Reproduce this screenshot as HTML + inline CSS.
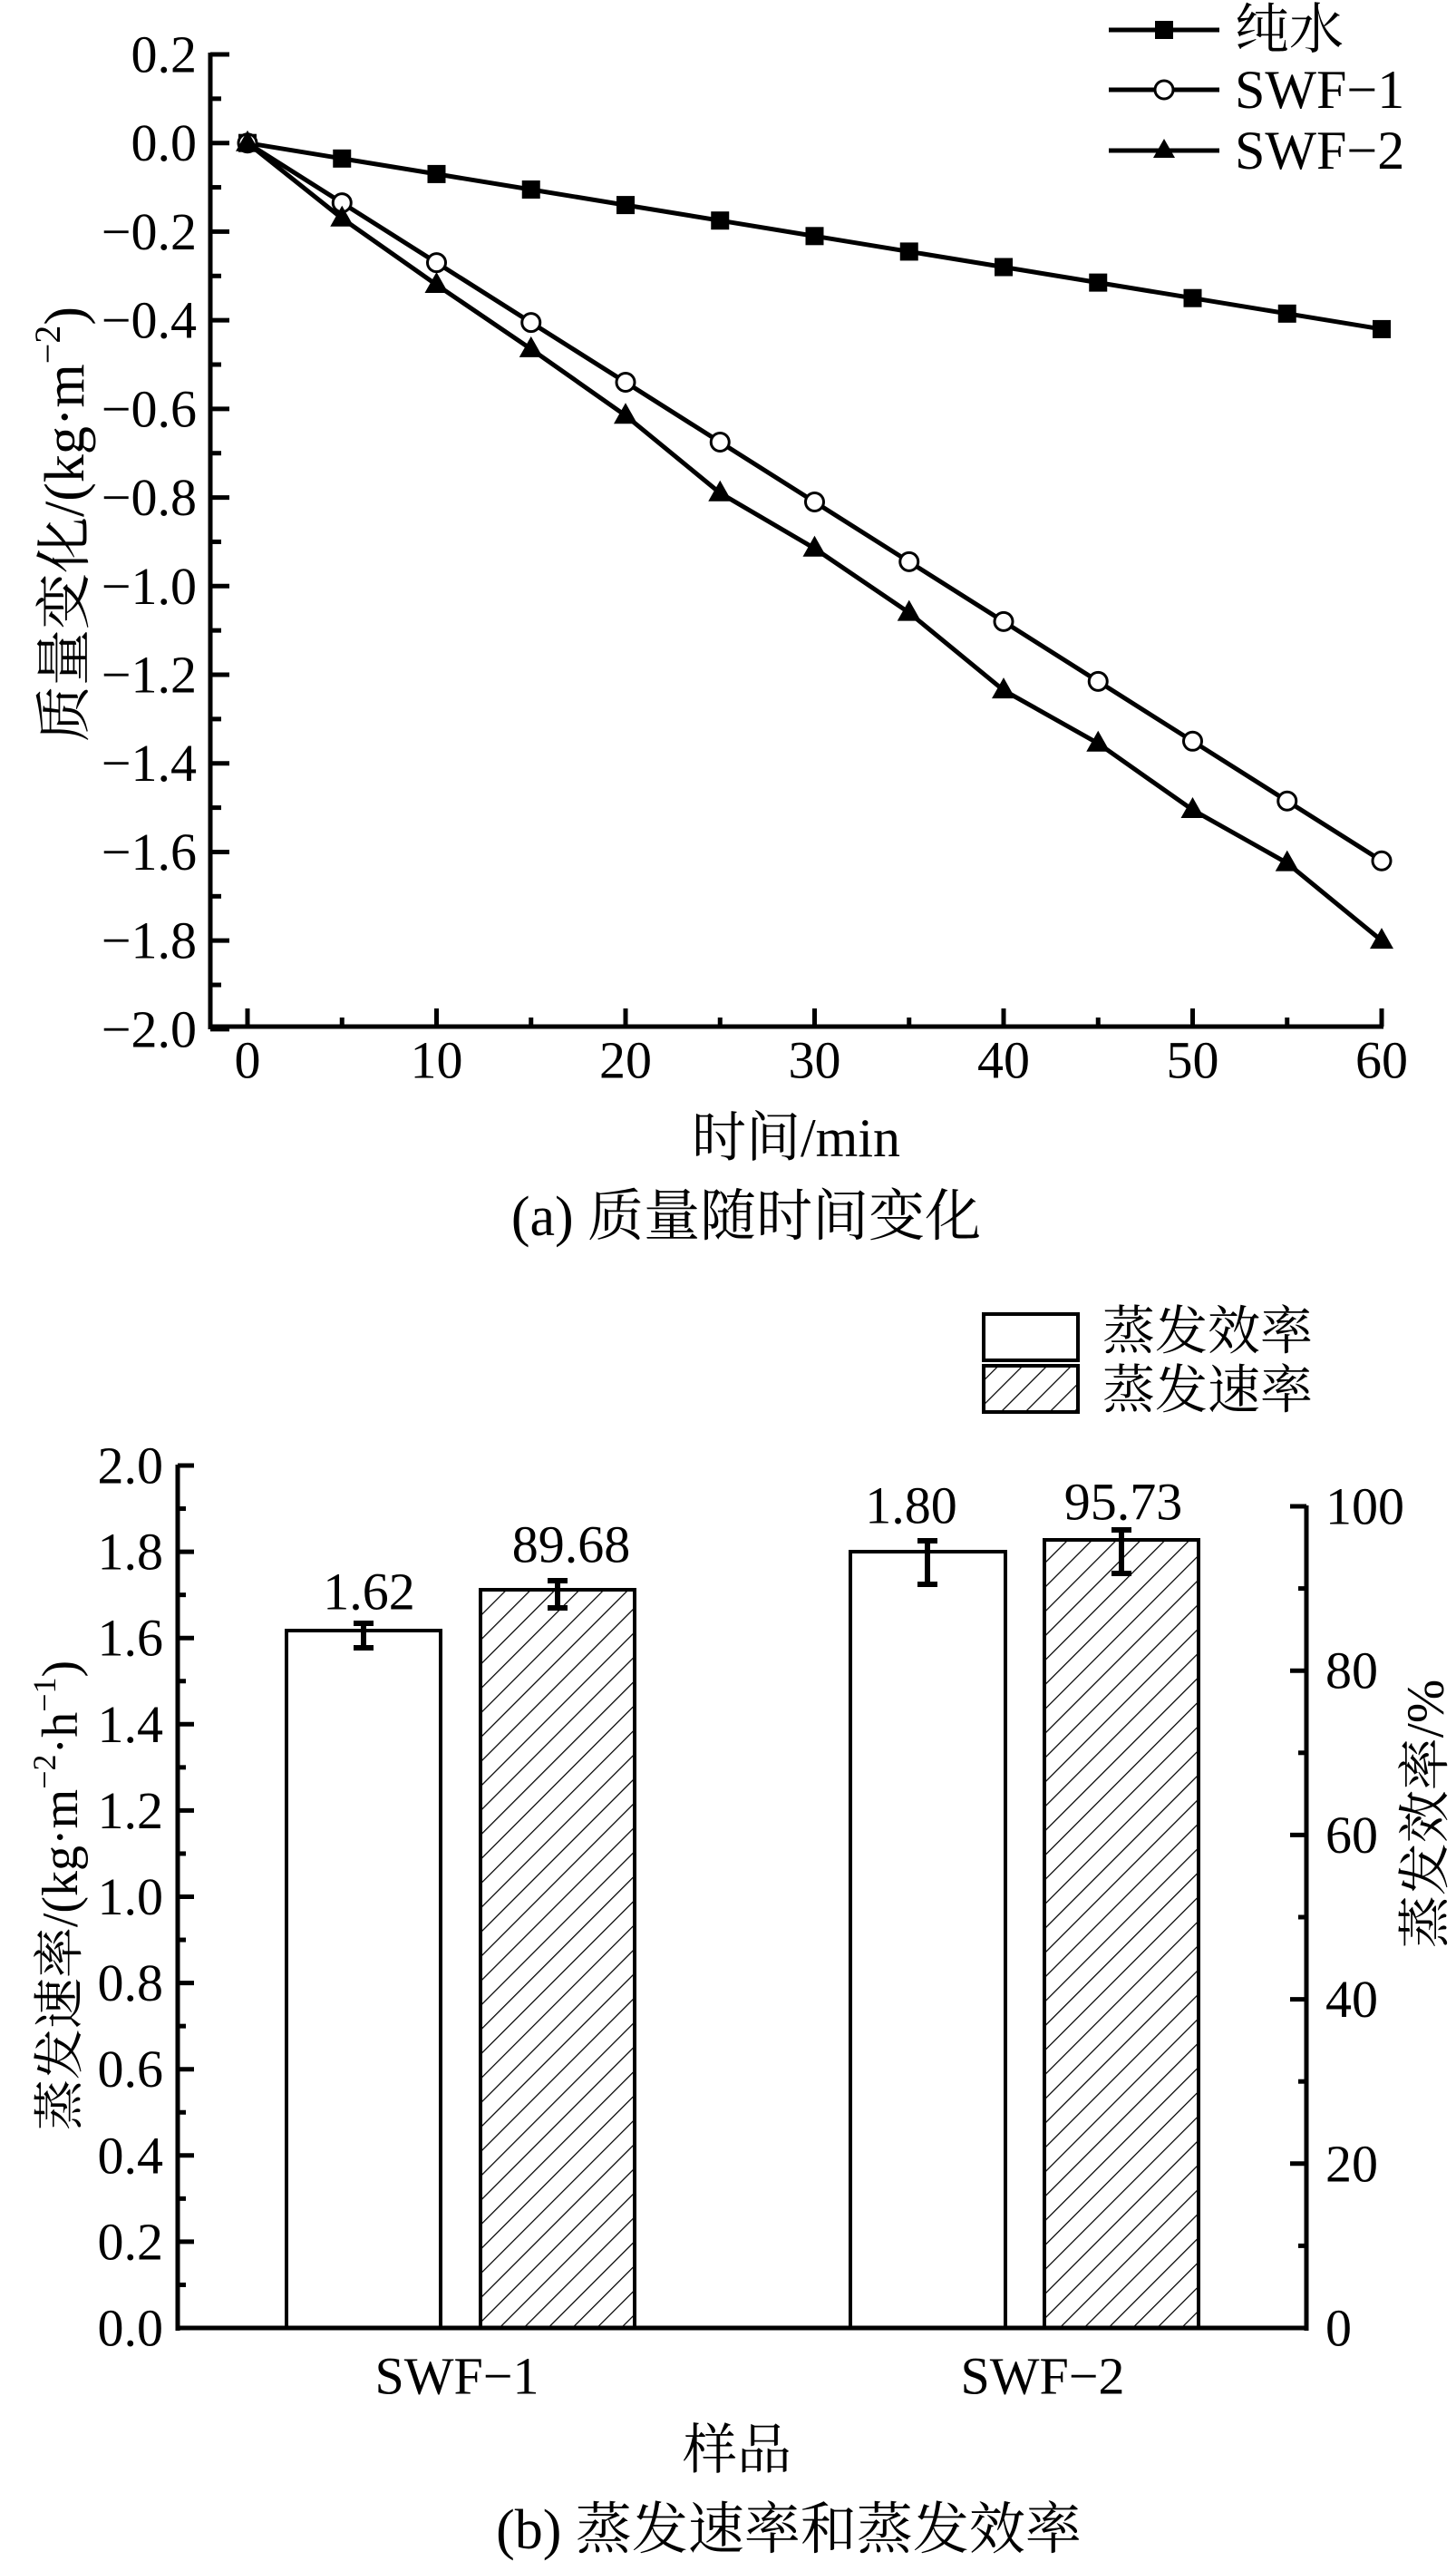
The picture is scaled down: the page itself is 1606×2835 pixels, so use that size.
<!DOCTYPE html>
<html><head><meta charset="utf-8"><style>
html,body{margin:0;padding:0;background:#fff}
svg{display:block}
text{font-family:"Liberation Serif","Noto Serif CJK SC",serif;fill:#000}
</style></head><body>
<svg width="1606" height="2835" viewBox="0 0 1606 2835" xmlns="http://www.w3.org/2000/svg" font-family="Liberation Serif, Noto Serif CJK SC, serif">
<defs>
<pattern id="h" patternUnits="userSpaceOnUse" width="19" height="19" patternTransform="rotate(45)">
<line x1="0" y1="0" x2="0" y2="19" stroke="#000" stroke-width="2.5"/>
</pattern>
</defs>

<!-- ============ Chart A ============ -->
<g stroke="#000" stroke-width="5" fill="none">
<line x1="232" y1="58" x2="232" y2="1135"/>
<line x1="230" y1="1132" x2="1526" y2="1132"/>
</g>
<g id="yticksA" stroke="#000" stroke-width="5"></g>
<g id="xticksA" stroke="#000" stroke-width="5"></g>
<g id="ylabA" font-size="58" text-anchor="end"></g>
<g id="xlabA" font-size="58" text-anchor="middle"></g>
<g id="seriesA"></g>

<!-- legend A -->
<g stroke="#000" stroke-width="5">
<line x1="1223" y1="33" x2="1345" y2="33"/>
<line x1="1223" y1="99" x2="1345" y2="99"/>
<line x1="1223" y1="166" x2="1345" y2="166"/>
</g>
<rect x="1274" y="23" width="20" height="20" fill="#000"/>
<circle cx="1284" cy="99" r="10" fill="#fff" stroke="#000" stroke-width="3"/>
<polygon points="1284,153 1296,174 1272,174" fill="#000"/>
<g font-size="60" dominant-baseline="central">
<text x="1362" y="33">纯水</text>
<text x="1362" y="99">SWF−1</text>
<text x="1362" y="166">SWF−2</text>
</g>

<text transform="translate(72,578) rotate(-90)" font-size="62" text-anchor="middle" dominant-baseline="central">质量变化/(kg·m<tspan font-size="40" dy="-20">−2</tspan><tspan dy="20">)</tspan></text>
<text x="878" y="1255" font-size="60" text-anchor="middle" dominant-baseline="central">时间/min</text>
<text x="823" y="1342" font-size="62" text-anchor="middle" dominant-baseline="central">(a) 质量随时间变化</text>

<!-- ============ Chart B ============ -->
<g stroke="#000" stroke-width="4">
<rect x="316" y="1798" width="170" height="769" fill="#fff"/>
<rect x="530" y="1753" width="170" height="814" fill="url(#h)"/>
<rect x="938" y="1711" width="171" height="856" fill="#fff"/>
<rect x="1152" y="1698" width="170" height="869" fill="url(#h)"/>
</g>
<g stroke="#000" stroke-width="6">
<line x1="401" y1="1790" x2="401" y2="1817"/><line x1="390" y1="1790" x2="412" y2="1790"/><line x1="390" y1="1817" x2="412" y2="1817"/>
<line x1="615" y1="1743" x2="615" y2="1773"/><line x1="604" y1="1743" x2="626" y2="1743"/><line x1="604" y1="1773" x2="626" y2="1773"/>
<line x1="1023" y1="1699" x2="1023" y2="1747"/><line x1="1012" y1="1699" x2="1034" y2="1699"/><line x1="1012" y1="1747" x2="1034" y2="1747"/>
<line x1="1237" y1="1687" x2="1237" y2="1735"/><line x1="1226" y1="1687" x2="1248" y2="1687"/><line x1="1226" y1="1735" x2="1248" y2="1735"/>
</g>
<g font-size="58" text-anchor="middle" dominant-baseline="central">
<text x="407" y="1755">1.62</text>
<text x="630" y="1703">89.68</text>
<text x="1005" y="1660">1.80</text>
<text x="1239" y="1656">95.73</text>
</g>
<g stroke="#000" stroke-width="5" fill="none">
<line x1="196" y1="1615" x2="196" y2="2570"/>
<line x1="1441" y1="1660" x2="1441" y2="2570"/>
<line x1="194" y1="2567" x2="1443" y2="2567"/>
</g>
<g id="yticksB" stroke="#000" stroke-width="5"></g>
<g id="ylabB" font-size="58" text-anchor="end"></g>
<g id="ylabB2" font-size="58" text-anchor="start"></g>

<g font-size="58" text-anchor="middle" dominant-baseline="central">
<text x="504" y="2620">SWF−1</text>
<text x="1150" y="2620">SWF−2</text>
</g>
<text x="813" y="2702" font-size="60" text-anchor="middle" dominant-baseline="central">样品</text>
<text x="870" y="2790" font-size="62" text-anchor="middle" dominant-baseline="central">(b) 蒸发速率和蒸发效率</text>
<text transform="translate(67,2090) rotate(-90)" font-size="56" text-anchor="middle" dominant-baseline="central">蒸发速率/(kg·m<tspan font-size="36" dy="-18">−2</tspan><tspan dy="18">·h</tspan><tspan font-size="36" dy="-18">−1</tspan><tspan dy="18">)</tspan></text>
<text transform="translate(1572,2000) rotate(-90)" font-size="58" text-anchor="middle" dominant-baseline="central">蒸发效率/%</text>

<rect x="1085" y="1449" width="104" height="51" fill="#fff" stroke="#000" stroke-width="4"/>
<rect x="1085" y="1506" width="104" height="51" fill="url(#h)" stroke="#000" stroke-width="4"/>
<g font-size="58" dominant-baseline="central">
<text x="1216" y="1468">蒸发效率</text>
<text x="1216" y="1533">蒸发速率</text>
</g>
</svg>
<script>
var NS="http://www.w3.org/2000/svg";
function el(p,t,a,txt){var e=document.createElementNS(NS,t);for(var k in a)e.setAttribute(k,a[k]);if(txt!==undefined)e.textContent=txt;document.getElementById(p).appendChild(e);return e;}
function fmt(v){var s=Math.abs(v).toFixed(1);return (v<-1e-9?"−":"")+s;}
function ya(v){return 157.7-v*488.6;}
function xa(t){return 273+t*20.85;}
for(var i=0;i<=22;i++){var v=0.2-i*0.1;var y=ya(v);var maj=(i%2==0);
 el("yticksA","line",{x1:232,y1:y,x2:maj?253:244,y2:y});
 if(maj) el("ylabA","text",{x:217,y:y,"dominant-baseline":"central"},fmt(v));}
for(var t=0;t<=60;t+=5){var x=xa(t);var maj=(t%10==0);
 el("xticksA","line",{x1:x,y1:1132,x2:x,y2:maj?1112:1122});
 if(maj) el("xlabA","text",{x:x,y:1169,"dominant-baseline":"central"},String(t));}
var ts=[0,5,10,15,20,25,30,35,40,45,50,55,60];
var pw=[0,-0.035,-0.07,-0.105,-0.14,-0.175,-0.21,-0.245,-0.28,-0.315,-0.35,-0.385,-0.42];
var s1=[0,-0.135,-0.27,-0.405,-0.54,-0.675,-0.81,-0.945,-1.08,-1.215,-1.35,-1.485,-1.62];
var s2=[0,-0.17,-0.32,-0.465,-0.615,-0.79,-0.915,-1.06,-1.235,-1.355,-1.505,-1.625,-1.8];
function pts(d){return ts.map(function(t,i){return xa(t)+","+ya(d[i]);}).join(" ");}
[pw,s1,s2].forEach(function(d){el("seriesA","polyline",{points:pts(d),fill:"none",stroke:"#000","stroke-width":5});});
ts.forEach(function(t,i){var x=xa(t),y=ya(pw[i]);el("seriesA","rect",{x:x-10,y:y-10,width:20,height:20,fill:"#000"});});
ts.forEach(function(t,i){var x=xa(t),y=ya(s1[i]);el("seriesA","circle",{cx:x,cy:y,r:10,fill:"#fff",stroke:"#000","stroke-width":3});});
ts.forEach(function(t,i){var x=xa(t),y=ya(s2[i]);el("seriesA","polygon",{points:x+","+(y-14)+" "+(x+13)+","+(y+9)+" "+(x-13)+","+(y+9),fill:"#000"});});
function yb(v){return 2567-v*475.5;}
for(var i=0;i<=20;i++){var v=i*0.1;var y=yb(v);var maj=(i%2==0);
 el("yticksB","line",{x1:196,y1:y,x2:maj?214:205,y2:y});
 if(maj) el("ylabB","text",{x:180,y:y,"dominant-baseline":"central"},v.toFixed(1));}
for(var p=0;p<=100;p+=10){var y=2567-p*9.06;var maj=(p%20==0);
 el("yticksB","line",{x1:1441,y1:y,x2:maj?1423:1432,y2:y});
 if(maj) el("ylabB2","text",{x:1462,y:y,"dominant-baseline":"central"},String(p));}
</script>
</body></html>
